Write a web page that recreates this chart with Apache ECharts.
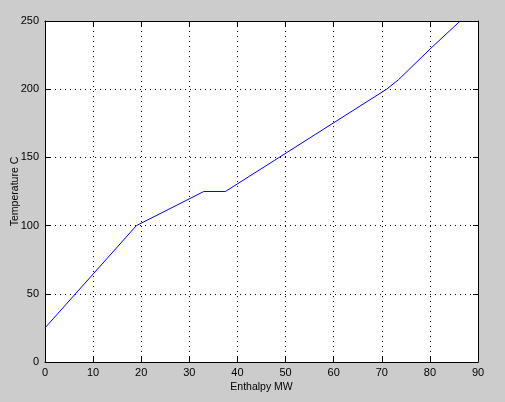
<!DOCTYPE html>
<html><head><meta charset="utf-8">
<script src="https://cdn.jsdelivr.net/npm/echarts@6/dist/echarts.min.js"></script>
<style>html,body{margin:0;padding:0;background:#cccccc;}#c{width:505px;height:402px;}</style>
</head><body><div id="c"></div>
<script>
const enthalpy = [0, 19, 33, 37.5, 71, 73.5, 80.2, 86.3];
const temperature = [25, 100, 125, 125, 200, 207, 230, 250];
const xTicks = [0, 10, 20, 30, 40, 50, 60, 70, 80, 90];
const yTicks = [0, 50, 100, 150, 200, 250];
const xTitle = 'Enthalpy MW';
const yTitle = 'Temperature C';

const font = 'Liberation Sans, Arial, sans-serif';
const chart = echarts.init(document.getElementById('c'));
const axisCommon = {
  axisLine: {show: true, onZero: false, lineStyle: {color: '#000', width: 1}},
  axisTick: {show: true, inside: true, length: 5, lineStyle: {color: '#000'}},
  splitLine: {show: false}
};
chart.setOption({
  backgroundColor: '#cccccc',
  animation: false,
  grid: {left: 45, top: 21, right: 27, bottom: 40, show: true, backgroundColor: '#fff', borderWidth: 0,
         containLabel: false, outerBoundsMode: 'none'},
  xAxis: [
    Object.assign({}, axisCommon, {
      type: 'value', min: xTicks[0], max: xTicks[xTicks.length-1], interval: 10, position: 'bottom',
      name: xTitle, nameLocation: 'middle', nameGap: 20, nameMoveOverlap: false,
      nameTextStyle: {color: '#000', fontSize: 10.5, fontFamily: font},
      axisLabel: {color: '#000', fontSize: 11, fontFamily: font, margin: 5},
      splitLine: {show: true, lineStyle: {color: '#000', type: [1, 4], width: 1}}
    }),
    Object.assign({}, axisCommon, {
      type: 'value', min: xTicks[0], max: xTicks[xTicks.length-1], interval: 10, position: 'top',
      axisLabel: {show: false}
    })
  ],
  yAxis: [
    Object.assign({}, axisCommon, {
      type: 'value', min: yTicks[0], max: yTicks[yTicks.length-1], interval: 50, position: 'left',
      name: yTitle, nameLocation: 'middle', nameGap: 24, nameRotate: 90, nameMoveOverlap: false,
      nameTextStyle: {color: '#000', fontSize: 10.5, fontFamily: font},
      axisLabel: {color: '#000', fontSize: 11, fontFamily: font, margin: 6},
      splitLine: {show: true, lineStyle: {color: '#000', type: [1, 4], width: 1}}
    }),
    Object.assign({}, axisCommon, {
      type: 'value', min: yTicks[0], max: yTicks[yTicks.length-1], interval: 50, position: 'right',
      axisLabel: {show: false}
    })
  ],
  series: [{
    type: 'line',
    data: enthalpy.map((x, i) => [x, temperature[i]]),
    showSymbol: false,
    lineStyle: {color: '#0000ff', width: 1},
    z: 10,
    clip: true
  }]
});
</script></body></html>
